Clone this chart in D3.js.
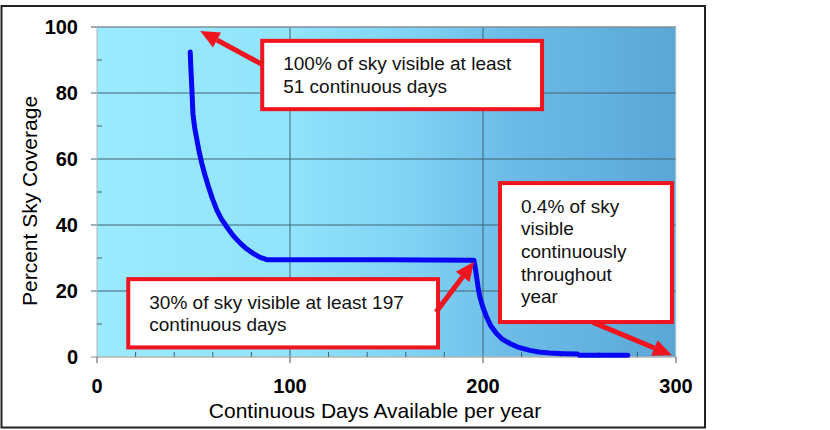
<!DOCTYPE html>
<html>
<head>
<meta charset="utf-8">
<script src="https://cdn.jsdelivr.net/npm/d3@7"></script>
<style>
  body { margin: 0; background: #fff; }
  text { font-family: "Liberation Sans", Arial, Helvetica, sans-serif; }
</style>
</head>
<body>
<div id="chart"></div>
<script>
// Curve: continuous days vs percent of sky.
const days = [48.3, 48.6, 49.2, 49.7, 50.6, 51.8, 53, 54.3, 56, 57.8, 59.8, 62.1, 64.5, 67.3, 70.5,
  74.2, 77.5, 80.9, 84.5, 88, 100, 150, 195.3, 196, 196.7, 197.5, 198.4, 200, 201.9, 204, 207,
  210, 213.9, 218, 224.3, 229, 234.6, 242, 249, 250, 275];
const coverage = [92.4, 88, 80.8, 73.8, 69.5, 65.7, 62, 58.7, 55, 51.5, 48, 44.5, 41.8, 39.4, 36.8,
  34.5, 32.8, 31.4, 30.2, 29.5, 29.5, 29.5, 29.3, 27, 24.2, 21, 18.2, 15, 12.1, 9.5, 7.1,
  5.4, 4.1, 3, 2.0, 1.5, 1.2, 1.0, 0.9, 0.5, 0.5];

const xTicks = [0, 100, 200, 300];
const xMinor = [20, 40, 60, 80, 120, 140, 160, 180, 220, 240, 260, 280];
const yTicks = [0, 20, 40, 60, 80, 100];
const yMinor = [10, 30, 50, 70, 90];

// Callouts (box corners and arrow ends in data units).
const noteText = [
  ["100% of sky visible at least", "51 continuous days"],
  ["0.4% of sky", "visible", "continuously", "throughout", "year"],
  ["30% of sky visible at least 197", "continuous days"]
];
const noteBox = [
  [85.6, 95.8, 230.6, 75.1],
  [208.8, 52.7, 297.9, 10.6],
  [16.2, 23.6, 176.7, 2.9]
];
const noteArrow = [
  [86.1, 88.5, 53.5, 98.8],
  [257, 10.5, 297.9, 0.5],
  [175.7, 13.6, 195.4, 28.9]
];

const width = 830, height = 430;
const m = { left: 97, right: 676, top: 27, bottom: 357 };

const svg = d3.select("#chart").append("svg")
  .attr("width", width)
  .attr("height", height);

const x = d3.scaleLinear().domain([0, 300]).range([m.left, m.right]);
const y = d3.scaleLinear().domain([0, 100]).range([m.bottom, m.top]);

// outer frame
svg.append("rect")
  .attr("x", 1.5).attr("y", 6)
  .attr("width", 703.5).attr("height", 421.5)
  .attr("fill", "none").attr("stroke", "#222").attr("stroke-width", 2);

// plot background gradient
const grad = svg.append("defs").append("linearGradient")
  .attr("id", "bg").attr("x1", "0%").attr("x2", "100%");
[[0, "#9ceafd"], [0.33, "#91e4fb"], [0.55, "#80d2f4"], [0.7, "#6dbde8"], [1, "#5aa7d6"]]
  .forEach(s => grad.append("stop").attr("offset", s[0]).attr("stop-color", s[1]));

svg.append("rect")
  .attr("x", m.left).attr("y", m.top)
  .attr("width", m.right - m.left).attr("height", m.bottom - m.top)
  .attr("fill", "url(#bg)");

// horizontal gridlines with outside ticks
svg.append("g").selectAll("line")
  .data(yTicks.filter(d => d > 0 && d < 100))
  .join("line")
  .attr("x1", m.left - 6).attr("x2", m.right)
  .attr("y1", d => y(d)).attr("y2", d => y(d))
  .attr("stroke", "#3f6473").attr("stroke-width", 1);

// vertical gridlines
svg.append("g").selectAll("line")
  .data([100, 200])
  .join("line")
  .attr("x1", d => x(d)).attr("x2", d => x(d))
  .attr("y1", m.top).attr("y2", m.bottom)
  .attr("stroke", "#3f6473").attr("stroke-width", 1);

// plot borders
svg.append("line")
  .attr("x1", m.left - 6).attr("x2", m.right)
  .attr("y1", y(100)).attr("y2", y(100))
  .attr("stroke", "#7f8f96").attr("stroke-width", 1.5);
svg.append("line")
  .attr("x1", x(300)).attr("x2", x(300))
  .attr("y1", m.top).attr("y2", m.bottom)
  .attr("stroke", "#d8dde0").attr("stroke-width", 1);
svg.append("line")
  .attr("x1", m.left).attr("x2", m.left)
  .attr("y1", m.top).attr("y2", m.bottom)
  .attr("stroke", "#b0b8bb").attr("stroke-width", 1);
svg.append("line")
  .attr("x1", m.left - 6).attr("x2", m.right)
  .attr("y1", y(0)).attr("y2", y(0))
  .attr("stroke", "#b4b4b4").attr("stroke-width", 1.5);

// minor ticks (inside)
svg.append("g").selectAll("line")
  .data(yMinor)
  .join("line")
  .attr("x1", m.left).attr("x2", m.left + 5)
  .attr("y1", d => y(d)).attr("y2", d => y(d))
  .attr("stroke", "#3f6473");
svg.append("g").selectAll("line")
  .data(xMinor)
  .join("line")
  .attr("x1", d => x(d)).attr("x2", d => x(d))
  .attr("y1", m.bottom - 5).attr("y2", m.bottom)
  .attr("stroke", "#3f6473");

// major x ticks (outside)
svg.append("g").selectAll("line")
  .data(xTicks)
  .join("line")
  .attr("x1", d => x(d)).attr("x2", d => x(d))
  .attr("y1", m.bottom).attr("y2", m.bottom + 6)
  .attr("stroke", "#555");

// tick labels
svg.append("g").selectAll("text")
  .data(yTicks)
  .join("text")
  .attr("x", 78).attr("y", d => y(d))
  .attr("dy", "0.36em")
  .attr("text-anchor", "end")
  .attr("font-size", 20).attr("font-weight", "bold")
  .text(d => d);

svg.append("g").selectAll("text")
  .data(xTicks)
  .join("text")
  .attr("x", d => x(d)).attr("y", 393)
  .attr("text-anchor", "middle")
  .attr("font-size", 20).attr("font-weight", "bold")
  .text(d => d);

// axis titles
svg.append("text")
  .attr("x", 375).attr("y", 418)
  .attr("text-anchor", "middle")
  .attr("font-size", 21)
  .text("Continuous Days Available per year");

svg.append("text")
  .attr("transform", "translate(37,201) rotate(-90)")
  .attr("text-anchor", "middle")
  .attr("font-size", 21)
  .text("Percent Sky Coverage");

// the curve
const pts = days.map((d, i) => [d, coverage[i]]);
const line = d3.line()
  .x(d => x(d[0]))
  .y(d => y(d[1]));

svg.append("path")
  .datum(pts)
  .attr("d", line)
  .attr("fill", "none")
  .attr("stroke", "#0808f4")
  .attr("stroke-width", 5)
  .attr("stroke-linecap", "round")
  .attr("stroke-linejoin", "round");

// callout boxes
const red = "#f0141e";
noteBox.forEach((b, i) => {
  const x0 = x(b[0]), y0 = y(b[1]), x1 = x(b[2]), y1 = y(b[3]);
  svg.append("rect")
    .attr("x", x0).attr("y", y0)
    .attr("width", x1 - x0).attr("height", y1 - y0)
    .attr("fill", "#fff").attr("stroke", red).attr("stroke-width", 4);
  svg.append("text")
    .attr("font-size", 19).attr("fill", "#111")
    .selectAll("tspan")
    .data(noteText[i])
    .join("tspan")
    .attr("x", x0 + 21)
    .attr("y", (d, j) => y0 + 29.5 + j * 22.7)
    .text(d => d);
});

// arrows
noteArrow.forEach(a => {
  const sx = x(a[0]), sy = y(a[1]), tx = x(a[2]), ty = y(a[3]);
  const ang = Math.atan2(ty - sy, tx - sx);
  const hl = 19, hw = 8.5;
  const bx = tx - hl * Math.cos(ang), by = ty - hl * Math.sin(ang);
  svg.append("line")
    .attr("x1", sx).attr("y1", sy).attr("x2", bx).attr("y2", by)
    .attr("stroke", red).attr("stroke-width", 5);
  const p1 = [bx + hw * Math.sin(ang), by - hw * Math.cos(ang)];
  const p2 = [bx - hw * Math.sin(ang), by + hw * Math.cos(ang)];
  svg.append("polygon")
    .attr("points", [[tx, ty], p1, p2].map(p => p.join(",")).join(" "))
    .attr("fill", red);
});
</script>
</body>
</html>
